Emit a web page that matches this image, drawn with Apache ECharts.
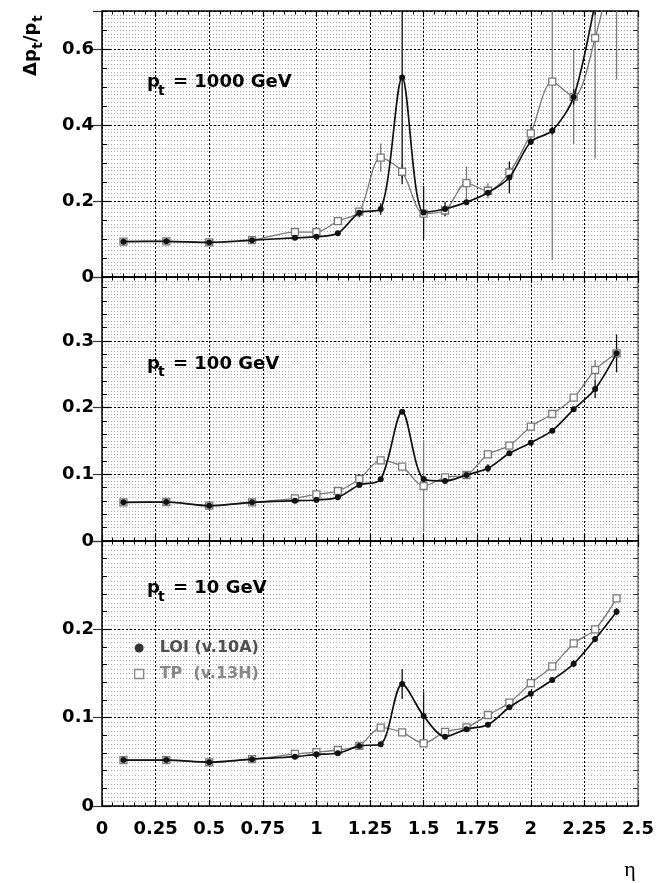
<!DOCTYPE html>
<html>
<head>
<meta charset="utf-8">
<script src="https://cdn.jsdelivr.net/npm/echarts@6/dist/echarts.min.js"></script>
<style>
html,body{margin:0;padding:0;background:#fff;}
#chart{width:656px;height:883px;}
</style>
</head>
<body>
<div id="chart"></div>
<script>
// ---- data ----
const eta = [0.1, 0.3, 0.5, 0.7, 0.9, 1.0, 1.1, 1.2, 1.3, 1.4, 1.5, 1.6, 1.7, 1.8, 1.9, 2.0, 2.1, 2.2, 2.3, 2.4];

const loi1000 = [0.093, 0.094, 0.091, 0.097, 0.103, 0.106, 0.115, 0.169, 0.179, 0.525, 0.170, 0.179, 0.197, 0.222, 0.262, 0.356, 0.385, 0.474, 0.72, 1.0];
const tp1000  = [0.093, 0.094, 0.091, 0.097, 0.118, 0.118, 0.147, 0.172, 0.314, 0.277, 0.167, 0.175, 0.247, 0.227, 0.275, 0.378, 0.514, 0.474, 0.629, 0.87];
const errLoi1000 = [0.002, 0.002, 0.002, 0.002, 0.003, 0.003, 0.004, 0.012, 0.015, 0.281, 0.07, 0.019, 0.006, 0.008, 0.042, 0.008, 0.01, 0.02, 0.03, 0.06];
const errTp1000  = [0.002, 0.002, 0.002, 0.002, 0.003, 0.003, 0.005, 0.01, 0.037, 0.02, 0.01, 0.01, 0.044, 0.02, 0.01, 0.02, 0.469, 0.124, 0.317, 0.35];

const loi100 = [0.058, 0.0585, 0.053, 0.058, 0.0605, 0.0615, 0.0655, 0.084, 0.0925, 0.194, 0.093, 0.090, 0.099, 0.109, 0.1315, 0.1475, 0.1655, 0.1975, 0.228, 0.2815];
const tp100  = [0.058, 0.0585, 0.053, 0.058, 0.064, 0.070, 0.075, 0.093, 0.121, 0.1115, 0.0825, 0.0955, 0.099, 0.130, 0.143, 0.1715, 0.1905, 0.215, 0.2565, 0.2815];
const errLoi100 = [0.001, 0.001, 0.001, 0.001, 0.001, 0.001, 0.002, 0.002, 0.002, 0.004, 0.003, 0.002, 0.003, 0.006, 0.003, 0.003, 0.003, 0.004, 0.0135, 0.0285];
const errTp100  = [0.001, 0.001, 0.001, 0.001, 0.001, 0.002, 0.002, 0.003, 0.003, 0.003, 0.069, 0.003, 0.003, 0.003, 0.003, 0.003, 0.003, 0.004, 0.015, 0.01];

const loi10 = [0.052, 0.052, 0.0495, 0.053, 0.0558, 0.0585, 0.0597, 0.068, 0.070, 0.138, 0.102, 0.0785, 0.087, 0.092, 0.1118, 0.127, 0.1427, 0.161, 0.189, 0.220];
const tp10  = [0.052, 0.052, 0.0495, 0.053, 0.0589, 0.061, 0.0634, 0.068, 0.0887, 0.0834, 0.071, 0.084, 0.089, 0.103, 0.117, 0.139, 0.158, 0.184, 0.200, 0.235];
const errLoi10 = [0.001, 0.001, 0.001, 0.001, 0.001, 0.001, 0.001, 0.002, 0.002, 0.017, 0.0275, 0.002, 0.002, 0.002, 0.002, 0.002, 0.002, 0.004, 0.003, 0.004];
const errTp10  = [0.001, 0.001, 0.001, 0.001, 0.001, 0.001, 0.001, 0.002, 0.002, 0.002, 0.002, 0.002, 0.002, 0.002, 0.002, 0.002, 0.002, 0.002, 0.002, 0.002];

const seriesNames = ['LOI (v.10A)', 'TP  (v.13H)'];
const panelEnergies = ['1000 GeV', '100 GeV', '10 GeV'];
const xMax = 2.5, xMajor = 0.25;
const yMax   = [0.7, 0.396, 0.3];
const yMajor = [0.2, 0.1, 0.1];
const yMinor = [0.05, 0.02, 0.02];
const yFine  = [0.01, 0.005, 0.005];

// ---- layout ----
const gridLeft = 102, gridWidth = 536;
const gridTop = [11, 277, 541];
const gridH = [266, 264, 265];
const labelBase = [88, 369.5, 594];

const panels = [
  {loi: loi1000, tp: tp1000, eL: errLoi1000, eT: errTp1000},
  {loi: loi100, tp: tp100, eL: errLoi100, eT: errTp100},
  {loi: loi10, tp: tp10, eL: errLoi10, eT: errTp10}
];

const FONT = '"DejaVu Sans", sans-serif';
const LOI_C = '#111111', TP_C = '#7a7a7a';
const SMOOTH = 0.3;

const grids = [], xAxes = [], yAxes = [], series = [], graphics = [];

function fmtY(v) { return v === 0 ? '0' : String(+v.toFixed(3)); }

panels.forEach((pd, p) => {
  grids.push({left: gridLeft, width: gridWidth, top: gridTop[p], height: gridH[p],
              containLabel: false, outerBoundsMode: 'none'});
  const xCommon = {
    gridIndex: p, type: 'value', min: 0, max: xMax, interval: xMajor,
    axisLine: {show: true, onZero: false, lineStyle: {color: '#000', width: 1.5}},
    axisTick: {show: true, inside: true, length: 6, lineStyle: {color: '#000', width: 1.2}},
    minorTick: {show: true, splitNumber: 5, length: 3.5, lineStyle: {color: '#000', width: 1}},
    z: 1
  };
  xAxes.push(Object.assign({}, xCommon, {
    position: 'bottom',
    splitLine: {show: true, lineStyle: {color: '#000', type: [2, 2], width: 1}},
    axisLabel: p === 2 ? {show: true, margin: 14, fontSize: 18, fontWeight: 'bold', fontFamily: FONT, color: '#000',
                          formatter: v => String(+v.toFixed(2))} : {show: false}
  }));
  xAxes.push(Object.assign({}, xCommon, {
    position: 'top', splitLine: {show: false}, axisLabel: {show: false}
  }));

  const base = yAxes.length;
  yAxes.push({gridIndex: p, type: 'value', position: 'left', min: 0, max: yMax[p], interval: yMajor[p], z: 1,
    axisLine: {show: true, onZero: false, lineStyle: {color: '#000', width: 1.5}},
    axisTick: {show: true, inside: true, length: 9, lineStyle: {color: '#000', width: 1.2}},
    splitLine: {show: true, lineStyle: {color: '#000', type: [2, 2], width: 1}},
    axisLabel: {show: true, margin: 8, fontSize: 18, fontWeight: 'bold', fontFamily: FONT, color: '#000',
                showMaxLabel: false, formatter: fmtY}
  });
  yAxes.push({gridIndex: p, type: 'value', position: 'left', min: 0, max: yMax[p], interval: yMinor[p], z: 1,
    axisLine: {show: false}, axisLabel: {show: false}, splitLine: {show: false},
    axisTick: {show: true, inside: true, length: 5, lineStyle: {color: '#000', width: 1}}
  });
  yAxes.push({gridIndex: p, type: 'value', position: 'right', min: 0, max: yMax[p], interval: yMinor[p], z: 1,
    axisLine: {show: true, onZero: false, lineStyle: {color: '#777', width: 1.5}},
    axisLabel: {show: false}, splitLine: {show: false},
    axisTick: {show: true, inside: true, length: 5, lineStyle: {color: '#333', width: 1}}
  });
  yAxes.push({gridIndex: p, type: 'value', position: 'right', min: 0, max: yMax[p], interval: yMajor[p], z: 1,
    axisLine: {show: false}, axisLabel: {show: false}, splitLine: {show: false},
    axisTick: {show: true, inside: true, length: 9, lineStyle: {color: '#333', width: 1.2}}
  });
  yAxes.push({gridIndex: p, type: 'value', position: 'left', min: 0, max: yMax[p], interval: yFine[p], z: 0,
    axisLine: {show: false}, axisLabel: {show: false}, axisTick: {show: false},
    splitLine: {show: true, lineStyle: {color: '#a8a8a8', type: [1, 2], width: 1}}
  });

  const xi = p * 2, yi = base;
  const mk = arr => eta.map((x, i) => [x, arr[i]]);
  const mkErr = (vals, errs) => eta.map((x, i) => [x, vals[i], errs[i]]);
  const errSeries = (name, vals, errs, color) => ({
    type: 'custom', name: name, xAxisIndex: xi, yAxisIndex: yi, clip: true, z: 3, silent: true,
    data: mkErr(vals, errs),
    renderItem: (params, api) => {
      const x = api.value(0), y = api.value(1), e = api.value(2);
      if (!e) return null;
      const a = api.coord([x, y + e]), b = api.coord([x, y - e]);
      return {type: 'line', shape: {x1: a[0], y1: a[1], x2: b[0], y2: b[1]},
              style: {stroke: color, lineWidth: 1.3}};
    }
  });
  series.push({
    type: 'line', name: seriesNames[1], xAxisIndex: xi, yAxisIndex: yi, data: mk(pd.tp),
    smooth: SMOOTH, clip: true, z: 3,
    symbol: 'rect', symbolSize: 7,
    itemStyle: {color: '#ffffff', borderColor: TP_C, borderWidth: 1.3},
    lineStyle: {color: TP_C, width: 1.3}
  });
  series.push(errSeries(seriesNames[1], pd.tp, pd.eT, TP_C));
  series.push({
    type: 'line', name: seriesNames[0], xAxisIndex: xi, yAxisIndex: yi, data: mk(pd.loi),
    smooth: SMOOTH, clip: true, z: 4,
    symbol: 'circle', symbolSize: 6,
    itemStyle: {color: LOI_C},
    lineStyle: {color: LOI_C, width: 1.7}
  });
  series.push(errSeries(seriesNames[0], pd.loi, pd.eL, LOI_C));

  const B = labelBase[p];
  graphics.push({type: 'text', x: 147, y: B - 5.4, z: 10,
    style: {text: 'p', font: 'bold 18px ' + FONT, fill: '#000', verticalAlign: 'middle', align: 'left'}});
  graphics.push({type: 'text', x: 158, y: B + 3, z: 10,
    style: {text: 't', font: 'bold 14px ' + FONT, fill: '#000', verticalAlign: 'middle', align: 'left'}});
  graphics.push({type: 'text', x: 173, y: B - 5.4, z: 10,
    style: {text: '= ' + panelEnergies[p], font: 'bold 18px ' + FONT, fill: '#000', verticalAlign: 'middle', align: 'left'}});
});

graphics.push({type: 'group', x: 31, y: 76, rotation: Math.PI / 2, z: 10, children: [
  {type: 'text', x: 0, y: 0, style: {text: 'Δp', font: 'bold 18px ' + FONT, fill: '#000', verticalAlign: 'middle', align: 'left'}},
  {type: 'text', x: 27, y: 7, style: {text: 't', font: 'bold 14px ' + FONT, fill: '#000', verticalAlign: 'middle', align: 'left'}},
  {type: 'text', x: 34, y: 0, style: {text: '/p', font: 'bold 18px ' + FONT, fill: '#000', verticalAlign: 'middle', align: 'left'}},
  {type: 'text', x: 54, y: 7, style: {text: 't', font: 'bold 14px ' + FONT, fill: '#000', verticalAlign: 'middle', align: 'left'}}
]});
graphics.push({type: 'text', x: 630, y: 870, z: 10,
  style: {text: 'η', font: '22px "Liberation Serif", serif', fill: '#000', verticalAlign: 'middle', align: 'center'}});

const chart = echarts.init(document.getElementById('chart'), null, {renderer: 'canvas'});
chart.setOption({
  backgroundColor: '#ffffff',
  animation: false,
  grid: grids,
  xAxis: xAxes,
  yAxis: yAxes,
  legend: {
    orient: 'vertical', left: 129, top: 635, itemWidth: 9, itemHeight: 9, itemGap: 10,
    selectedMode: false,
    data: [
      {name: seriesNames[0], icon: 'circle', itemStyle: {color: '#333'},
       textStyle: {color: '#505050'}},
      {name: seriesNames[1], icon: 'rect', itemStyle: {color: '#fff', borderColor: '#888', borderWidth: 1.3},
       textStyle: {color: '#888888'}}
    ],
    textStyle: {fontFamily: FONT, fontSize: 16, fontWeight: 'bold', lineHeight: 16, padding: [0, 0, 0, 11]}
  },
  series: series,
  graphic: graphics
});
</script>
</body>
</html>
